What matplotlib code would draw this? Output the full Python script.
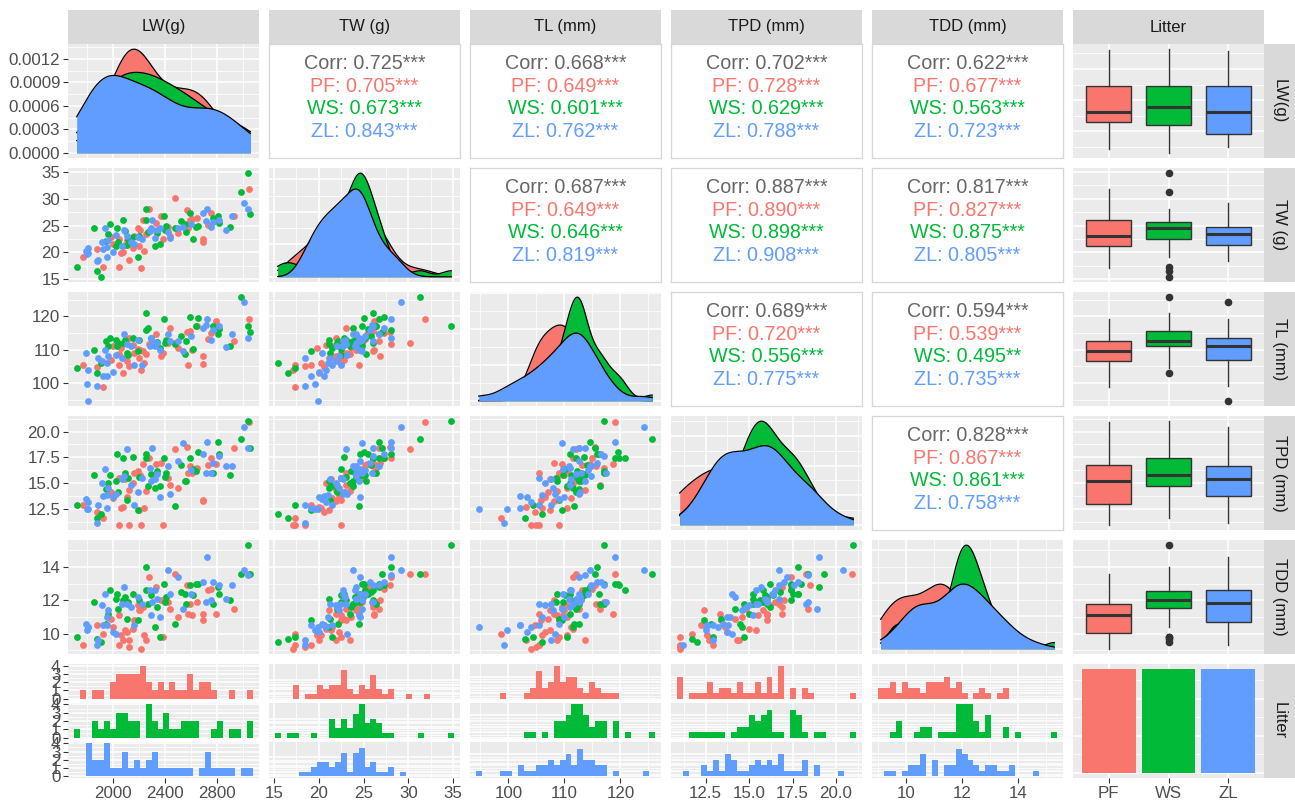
import numpy as np
import matplotlib
matplotlib.use("Agg")
import matplotlib.pyplot as plt
from matplotlib.ticker import FixedLocator, AutoMinorLocator, MaxNLocator

plt.rcParams['font.family'] = ['Liberation Sans', 'DejaVu Sans']

# ---------------- data ----------------
groups = ["PF", "WS", "ZL"]
group_colors = ["#F8766D", "#00BA38", "#619CFF"]
var_labels = ["LW(g)", "TW (g)", "TL (mm)", "TPD (mm)", "TDD (mm)"]

pf_lw = [1770, 1876, 1920, 1997, 2044, 2049, 2075, 2110, 2121, 2126, 2191, 2198, 2217, 2229, 2255, 2276, 2333, 2371,
         2384, 2423, 2436, 2475, 2500, 2570, 2578, 2591, 2604, 2642, 2689, 2694, 2733, 2750, 2792, 2926, 3047,
         1985, 2065, 2150, 2240, 2160, 2210, 2095]
pf_tw = [19.1, 20.6, 17.3, 21.5, 17.3, 22.5, 20.0, 22.2, 18.5, 21.9, 24.5, 21.1, 17.1, 26.0, 23.5, 28.1, 25.4, 26.8,
         22.5, 24.8, 23.0, 30.2, 23.6, 27.9, 24.5, 26.0, 26.2, 26.4, 22.5, 21.9, 25.1, 27.3, 26.2, 26.7, 31.9,
         22.8, 19.8, 20.8, 20.2, 23.0, 24.2, 21.4]
pf_tl = [105.4, 104.8, 98.7, 111.1, 105.4, 108.6, 103.1, 106.6, 105.0, 113.6, 110.2, 107.5, 104.0, 109.6, 108.6, 111.6,
         114.6, 108.1, 109.1, 112.0, 116.4, 112.1, 110.5, 115.4, 105.4, 115.6, 109.8, 117.1, 105.8, 108.1, 113.1, 115.0,
         118.6, 112.6, 119.1, 107.0, 110.5, 111.5, 106.0, 109.0, 110.0, 107.5]
pf_tpd = [12.9, 12.2, 11.7, 13.6, 11.0, 15.5, 12.7, 13.7, 11.0, 14.4, 16.2, 12.4, 11.0, 16.9, 14.3, 17.4, 16.9, 17.0,
          11.0, 15.5, 14.8, 18.3, 14.6, 18.5, 16.0, 16.7, 16.0, 16.5, 13.4, 13.3, 16.8, 17.4, 16.9, 18.4, 20.9,
          14.2, 12.6, 15.0, 12.6, 16.0, 15.8, 15.4]
pf_tdd = [9.3, 10.5, 10.0, 10.4, 9.3, 11.1, 9.6, 10.1, 9.2, 9.6, 11.7, 11.4, 9.1, 11.6, 9.6, 13.4, 12.8, 12.0,
          9.8, 11.9, 11.5, 13.6, 11.0, 12.9, 11.2, 11.8, 11.1, 11.9, 10.8, 11.2, 12.6, 12.7, 11.2, 11.5, 13.6,
          10.9, 9.9, 10.3, 9.9, 10.8, 11.4, 10.2]

ws_lw = [1721, 1855, 1876, 1907, 1946, 1979, 2023, 2028, 2075, 2108, 2113, 2150, 2191, 2250, 2255, 2268, 2320, 2358,
         2392, 2397, 2410, 2475, 2552, 2560, 2591, 2611, 2637, 2655, 2771, 2810, 2818, 2900, 2983, 3037, 3055,
         1960, 2040, 2095, 2200, 2290, 2340, 2520]
ws_tw = [17.3, 24.6, 16.5, 15.4, 22.1, 25.2, 21.1, 24.6, 26.0, 21.3, 22.5, 22.8, 19.1, 28.1, 26.0, 23.8, 21.1, 21.5,
         26.7, 24.1, 24.9, 24.5, 25.3, 23.8, 27.3, 22.5, 24.8, 25.0, 26.4, 26.7, 25.5, 24.8, 31.3, 34.8, 27.1,
         23.5, 22.0, 24.0, 23.0, 24.4, 23.6, 25.8]
ws_tl = [104.4, 109.8, 103.0, 106.0, 112.6, 113.6, 113.0, 111.0, 112.1, 109.1, 108.5, 113.5, 109.6, 115.8, 120.9, 116.4,
         111.6, 110.5, 119.1, 112.0, 113.0, 111.8, 108.6, 112.6, 119.7, 110.1, 117.0, 119.5, 117.1, 114.6, 116.1, 111.1,
         125.7, 117.1, 115.4, 111.0, 112.0, 113.0, 112.8, 113.5, 112.2, 114.0]
ws_tpd = [12.9, 15.8, 11.7, 12.0, 14.5, 15.8, 15.2, 17.8, 17.4, 13.4, 15.5, 17.5, 12.4, 17.8, 17.4, 14.7, 14.6, 14.7,
          17.4, 15.6, 16.0, 12.8, 15.2, 15.2, 17.4, 16.4, 16.2, 18.0, 16.0, 19.0, 17.8, 15.8, 19.3, 21.0, 18.4,
          15.0, 14.2, 16.0, 15.6, 15.9, 16.2, 16.8]
ws_tdd = [9.8, 11.9, 9.7, 9.5, 10.6, 12.6, 12.1, 12.4, 12.0, 10.9, 11.9, 12.4, 10.8, 14.0, 12.6, 11.8, 10.4, 9.8,
          13.0, 11.9, 12.2, 10.6, 12.4, 11.8, 12.9, 12.3, 13.0, 13.0, 11.8, 12.8, 12.4, 12.0, 13.6, 15.3, 13.6,
          11.2, 11.5, 12.2, 12.0, 12.3, 11.6, 12.5]

zl_lw = [1791, 1799, 1811, 1876, 1881, 1915, 1920, 1940, 1953, 1997, 2023, 2069, 2087, 2108, 2165, 2191, 2224, 2281,
         2294, 2302, 2320, 2363, 2423, 2436, 2500, 2539, 2694, 2715, 2720, 2771, 2818, 2869, 2913, 3003, 3037,
         1805, 1955, 1965, 2140, 2340, 2600, 2750]
zl_tw = [20.3, 19.6, 19.9, 18.4, 18.5, 21.9, 20.6, 24.6, 19.1, 20.0, 23.2, 21.2, 24.1, 23.0, 21.5, 22.9, 22.5, 24.0,
         24.5, 26.0, 22.7, 24.6, 23.8, 22.7, 24.6, 24.8, 27.3, 25.9, 28.1, 25.7, 26.0, 24.1, 26.7, 29.2, 28.1,
         20.8, 21.0, 22.2, 22.0, 24.2, 25.2, 24.8]
zl_tl = [109.1, 99.7, 94.7, 99.2, 107.6, 106.6, 102.0, 109.8, 102.0, 103.4, 108.4, 107.6, 114.8, 111.6, 105.4, 112.8,
         105.4, 111.0, 113.6, 112.6, 111.1, 110.0, 114.6, 112.6, 112.6, 109.6, 116.6, 117.5, 119.1, 115.8, 117.1, 110.8,
         114.8, 124.2, 113.6, 104.0, 106.0, 108.0, 111.0, 112.0, 114.2, 113.0]
zl_tpd = [13.5, 12.5, 12.5, 11.2, 12.9, 15.0, 13.8, 16.4, 12.6, 13.7, 14.0, 15.4, 15.7, 18.3, 12.9, 14.2, 15.5, 16.5,
          15.2, 18.4, 15.4, 13.7, 16.7, 14.0, 17.2, 18.9, 17.8, 16.0, 19.0, 17.0, 17.6, 16.7, 16.7, 20.4, 18.4,
          13.2, 13.9, 14.6, 14.8, 15.9, 16.3, 16.0]
zl_tdd = [10.6, 10.2, 10.4, 9.3, 9.6, 11.7, 10.5, 12.4, 10.5, 10.1, 10.0, 11.8, 12.8, 11.8, 10.5, 12.2, 11.8, 12.6,
          11.1, 11.9, 12.6, 11.0, 13.8, 12.4, 13.4, 11.5, 13.1, 11.9, 14.6, 13.1, 12.9, 12.1, 12.9, 13.8, 13.5,
          10.4, 11.0, 11.4, 11.6, 12.1, 12.4, 12.0]

# correlation labels (upper panels): overall, PF, WS, ZL
corr_01 = ["0.725***", "0.705***", "0.673***", "0.843***"]
corr_02 = ["0.668***", "0.649***", "0.601***", "0.762***"]
corr_03 = ["0.702***", "0.728***", "0.629***", "0.788***"]
corr_04 = ["0.622***", "0.677***", "0.563***", "0.723***"]
corr_12 = ["0.687***", "0.649***", "0.646***", "0.819***"]
corr_13 = ["0.887***", "0.890***", "0.898***", "0.908***"]
corr_14 = ["0.817***", "0.827***", "0.875***", "0.805***"]
corr_23 = ["0.689***", "0.720***", "0.556***", "0.775***"]
corr_24 = ["0.594***", "0.539***", "0.495**", "0.735***"]
corr_34 = ["0.828***", "0.867***", "0.861***", "0.758***"]

# axis breaks
lw_ticks = [2000, 2400, 2800]
tw_ticks = [15, 20, 25, 30, 35]
tl_ticks = [100, 110, 120]
tpd_ticks = [10.0, 12.5, 15.0, 17.5, 20.0]
tdd_ticks = [10, 12, 14]
dens_ticks = [0.0000, 0.0003, 0.0006, 0.0009, 0.0012]
count_ticks = [0, 1, 2, 3, 4]

# ---------------- assemble ----------------
data = {
    "PF": [pf_lw, pf_tw, pf_tl, pf_tpd, pf_tdd],
    "WS": [ws_lw, ws_tw, ws_tl, ws_tpd, ws_tdd],
    "ZL": [zl_lw, zl_tw, zl_tl, zl_tpd, zl_tdd],
}
corr = {(0, 1): corr_01, (0, 2): corr_02, (0, 3): corr_03, (0, 4): corr_04, (1, 2): corr_12,
        (1, 3): corr_13, (1, 4): corr_14, (2, 3): corr_23, (2, 4): corr_24, (3, 4): corr_34}
ticks = [lw_ticks, tw_ticks, tl_ticks, tpd_ticks, tdd_ticks]
tick_fmt = [lambda v: f"{v:.0f}", lambda v: f"{v:.0f}", lambda v: f"{v:.0f}",
            lambda v: f"{v:.1f}", lambda v: f"{v:.0f}"]
nvar = 5
allvals = [np.concatenate([np.asarray(data[g][k], float) for g in groups]) for k in range(nvar)]
rng = [(v.min(), v.max()) for v in allvals]
lims = [(lo - 0.05 * (hi - lo), hi + 0.05 * (hi - lo)) for lo, hi in rng]

W, H = 1295, 808
fig = plt.figure(figsize=(W / 100, H / 100), dpi=100)
fig.patch.set_facecolor("white")

L0, PW, GAP = 68, 191, 10
T0, PH, VG = 44, 114, 10
TICK_FS = 12.2
TICK_COL = "#4D4D4D"


def add_ax(x, y, w, h):
    return fig.add_axes([x / W, 1 - (y + h) / H, w / W, h / H])


def panel_rect(r, c):
    return L0 + c * (PW + GAP), T0 + r * (PH + VG)


def style(ax):
    ax.set_facecolor("#EBEBEB")
    for s in ax.spines.values():
        s.set_visible(False)
    ax.set_axisbelow(True)
    ax.grid(which="major", color="white", lw=1.1)
    ax.grid(which="minor", color="white", lw=0.55)
    ax.tick_params(which="both", length=0, labelbottom=False, labelleft=False)
    ax.tick_params(which="major", colors="#333333", labelcolor=TICK_COL, labelsize=TICK_FS, width=0.8, pad=2)


def set_x(ax, k):
    ax.set_xlim(*lims[k])
    ax.xaxis.set_major_locator(FixedLocator(ticks[k]))
    ax.xaxis.set_minor_locator(AutoMinorLocator(2))


def set_y(ax, k):
    ax.set_ylim(*lims[k])
    ax.yaxis.set_major_locator(FixedLocator(ticks[k]))
    ax.yaxis.set_minor_locator(AutoMinorLocator(2))


def show_x(ax, k):
    ax.tick_params(axis="x", which="major", length=3.5, labelbottom=True)
    ax.set_xticklabels([tick_fmt[k](v) for v in ticks[k]])


def show_y(ax, labels):
    ax.tick_params(axis="y", which="major", length=3.5, labelleft=True)
    ax.set_yticklabels(labels)


def kde(x, grid):
    x = np.asarray(x, float)
    n = len(x)
    sd = x.std(ddof=1)
    iqr = np.subtract(*np.percentile(x, [75, 25]))
    bw = 0.9 * min(sd, iqr / 1.34) * n ** (-0.2)
    z = (grid[:, None] - x[None, :]) / bw
    return np.exp(-0.5 * z ** 2).sum(axis=1) / (n * bw * np.sqrt(2 * np.pi))


# top strips
for c, lab in enumerate(var_labels + ["Litter"]):
    x, _ = panel_rect(0, c)
    s = add_ax(x, 10, PW, T0 - 10)
    s.set_facecolor("#D9D9D9")
    s.set_xticks([]); s.set_yticks([])
    for sp in s.spines.values():
        sp.set_visible(False)
    s.text(0.5, 0.5, lab, ha="center", va="center", fontsize=12, color="#1A1A1A", transform=s.transAxes)

# right strips
for r, lab in enumerate(var_labels + ["Litter"]):
    x, y = panel_rect(r, 5)
    s = add_ax(x + PW, y, W - (x + PW), PH)
    s.set_facecolor("#D9D9D9")
    s.set_xticks([]); s.set_yticks([])
    for sp in s.spines.values():
        sp.set_visible(False)
    s.text(0.5, 0.5, lab, ha="center", va="center", fontsize=12, color="#1A1A1A", rotation=-90,
           transform=s.transAxes)

for r in range(nvar):
    for c in range(nvar):
        x, y = panel_rect(r, c)
        ax = add_ax(x, y, PW, PH)
        if r < c:
            # correlation text panel
            ax.set_facecolor("white")
            ax.set_xticks([]); ax.set_yticks([])
            for sp in ax.spines.values():
                sp.set_color("#D6D6D6"); sp.set_linewidth(0.9)
            labs = corr[(r, c)]
            names = ["Corr"] + groups
            cols = ["#666666"] + group_colors
            for i, (nm, lb, co) in enumerate(zip(names, labs, cols)):
                ax.text(0.5, 0.83 - 0.2 * i, f"{nm}: {lb}", ha="center", va="center", fontsize=14.2,
                        color=co, transform=ax.transAxes)
            continue
        style(ax)
        set_x(ax, c)
        if r == c:
            grid = np.linspace(rng[c][0], rng[c][1], 512)
            dmax = 0
            for gi, (g, col) in enumerate(zip(groups, group_colors)):
                d = kde(data[g][c], grid)
                dmax = max(dmax, d.max())
                ax.fill_between(grid, 0, d, color=col, lw=0, zorder=2 + 2 * gi)
                ax.plot(grid, d, color="black", lw=0.9, zorder=3 + 2 * gi)
            ax.set_ylim(-0.05 * dmax, 1.05 * dmax)
            if r == 0:
                ax.yaxis.set_major_locator(FixedLocator(dens_ticks))
                ax.yaxis.set_minor_locator(AutoMinorLocator(2))
                show_y(ax, [f"{v:.4f}" for v in dens_ticks])
            else:
                ax.yaxis.set_major_locator(MaxNLocator(4))
                ax.yaxis.set_minor_locator(AutoMinorLocator(2))
        else:
            set_y(ax, r)
            for g, col in zip(groups, group_colors):
                ax.scatter(data[g][c], data[g][r], s=24, color=col, linewidths=0, zorder=3)
            if c == 0:
                show_y(ax, [tick_fmt[r](v) for v in ticks[r]])

    # boxplot column
    x, y = panel_rect(r, 5)
    ax = add_ax(x, y, PW, PH)
    style(ax)
    ax.set_xlim(0.4, 3.6)
    ax.xaxis.set_major_locator(FixedLocator([1, 2, 3]))
    set_y(ax, r)
    bp = ax.boxplot([data[g][r] for g in groups], positions=[1, 2, 3], widths=0.75, patch_artist=True,
                    showcaps=False, whis=1.5, manage_ticks=False,
                    medianprops=dict(color="#333333", lw=2.2),
                    boxprops=dict(edgecolor="#333333", lw=1.0),
                    whiskerprops=dict(color="#333333", lw=1.0),
                    flierprops=dict(marker="o", markerfacecolor="#333333", markeredgecolor="#333333",
                                    markersize=4.5))
    for patch, col in zip(bp["boxes"], group_colors):
        patch.set_facecolor(col)

# bottom row: histograms faceted by group
bot_y = T0 + 5 * (PH + VG)
sub_gap = 2.5
sub_h = (PH - 2 * sub_gap) / 3
for c in range(nvar):
    x, _ = panel_rect(5, c)
    lo, hi = rng[c]
    bw = (hi - lo) / 29
    edges = lo - bw / 2 + bw * np.arange(31)
    counts = [np.histogram(data[g][c], bins=edges)[0] for g in groups]
    cmax = max(4, max(cn.max() for cn in counts))
    for gi, (g, col) in enumerate(zip(groups, group_colors)):
        ax = add_ax(x, bot_y + gi * (sub_h + sub_gap), PW, sub_h)
        style(ax)
        set_x(ax, c)
        ax.bar(edges[:-1], counts[gi], width=bw, align="edge", color=col, lw=0)
        ax.set_ylim(-0.05 * cmax, 1.05 * cmax)
        ax.yaxis.set_major_locator(FixedLocator(count_ticks))
        ax.yaxis.set_minor_locator(FixedLocator([0.5, 1.5, 2.5, 3.5]))
        if c == 0:
            show_y(ax, [str(v) for v in count_ticks])
        if gi == 2:
            show_x(ax, c)

# bottom-right bar chart of counts
x, _ = panel_rect(5, 5)
ax = add_ax(x, bot_y, PW, PH)
style(ax)
ns = [len(data[g][0]) for g in groups]
ax.bar([1, 2, 3], ns, width=0.9, color=group_colors, lw=0)
ax.set_xlim(0.4, 3.6)
ax.set_ylim(-0.05 * max(ns), 1.05 * max(ns))
ax.xaxis.set_major_locator(FixedLocator([1, 2, 3]))
ax.yaxis.set_major_locator(MaxNLocator(4))
ax.yaxis.set_minor_locator(AutoMinorLocator(2))
ax.tick_params(axis="x", which="major", length=3.5, labelbottom=True)
ax.set_xticklabels(groups)

fig.savefig("out.png", dpi=100, facecolor="white")
